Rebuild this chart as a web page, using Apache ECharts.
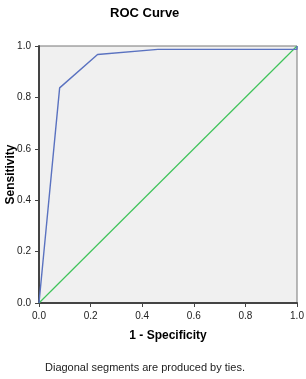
<!DOCTYPE html>
<html><head><meta charset="utf-8">
<script src="https://cdn.jsdelivr.net/npm/echarts@6/dist/echarts.min.js"></script>
<style>html,body{margin:0;padding:0;background:#fff}#c{width:306px;height:379px}</style>
</head><body><div id="c"></div>
<script>
const rocFpr = [0, 0.080, 0.227, 0.461, 1.0, 1.0];
const rocTpr = [0, 0.837, 0.967, 0.987, 0.987, 1.0];
const refFpr = [0, 1];
const refTpr = [0, 1];
const ticks = [0, 0.2, 0.4, 0.6, 0.8, 1.0];
const chart = echarts.init(document.getElementById('c'), null, {renderer: 'canvas'});
const font = 'Liberation Sans, Arial, sans-serif';
const axisCommon = {
  min: 0, max: 1, interval: 0.2,
  nameMoveOverlap: false,
  axisLine: {show: true, lineStyle: {color: '#444', width: 2}},
  axisTick: {show: true, length: 4, lineStyle: {color: '#444', width: 1}},
  axisLabel: {color: '#222', fontSize: 10, fontFamily: font, formatter: v => v.toFixed(1)},
  splitLine: {show: false}
};
chart.setOption({
  animation: false,
  title: [
    {text: 'ROC Curve', left: 105, top: 2, textStyle: {fontFamily: font, fontSize: 13, fontWeight: 'bold', color: '#000'}},
    {text: 'Diagonal segments are produced by ties.', left: 40, top: 357, textStyle: {fontFamily: font, fontSize: 11, fontWeight: 'normal', color: '#222'}}
  ],
  grid: {left: 39, top: 46, right: 9, bottom: 76, outerBoundsMode: 'none', containLabel: false, show: true, backgroundColor: '#f0f0f0', borderColor: '#777', borderWidth: 1},
  xAxis: Object.assign({type: 'value', name: '1 - Specificity', nameLocation: 'middle', nameGap: 27,
    nameTextStyle: {fontFamily: font, fontSize: 12, fontWeight: 'bold', color: '#000'}}, axisCommon),
  yAxis: Object.assign({type: 'value', name: 'Sensitivity', nameLocation: 'middle', nameGap: 22,
    nameTextStyle: {fontFamily: font, fontSize: 12, fontWeight: 'bold', color: '#000'}}, axisCommon),
  series: [
    {type: 'line', data: refFpr.map((x, i) => [x, refTpr[i]]), symbol: 'none', lineStyle: {color: '#3fc35a', width: 1.2}},
    {type: 'line', data: rocFpr.map((x, i) => [x, rocTpr[i]]), symbol: 'none', lineStyle: {color: '#5a72c0', width: 1.4}}
  ]
});
</script></body></html>
